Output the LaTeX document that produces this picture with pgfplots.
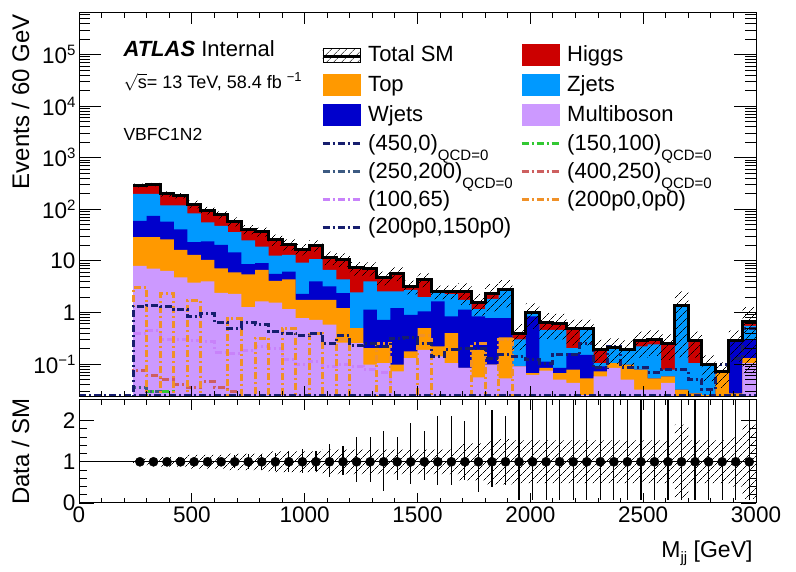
\documentclass[border=0pt]{standalone}
\usepackage{fontspec}
\setmainfont{Liberation Sans}
\usepackage{pgfplots}
\usepackage{pgfplotstable}
\pgfplotsset{compat=1.18}
\usetikzlibrary{patterns,patterns.meta}

\definecolor{cHiggs}{RGB}{204,0,0}
\definecolor{cTop}{RGB}{255,153,0}
\definecolor{cZ}{RGB}{0,153,255}
\definecolor{cW}{RGB}{0,0,204}
\definecolor{cVV}{RGB}{204,153,255}
\definecolor{sNavy}{RGB}{22,30,110}
\definecolor{sGreen}{RGB}{50,200,50}
\definecolor{sSteel}{RGB}{60,90,130}
\definecolor{sSalmon}{RGB}{205,95,95}
\definecolor{sViolet}{RGB}{200,130,250}
\definecolor{sOrange}{RGB}{240,145,40}

\newcommand{\sups}[1]{\raisebox{8bp}{\fontsize{15bp}{15bp}\selectfont #1}}
\newcommand{\qcd}{\smash{\raisebox{-10bp}{\fontsize{15bp}{15bp}\selectfont QCD=0}}}
\newcommand{\lstrut}{\rule[-3bp]{0pt}{19bp}}
\newcommand{\legL}[1]{\makebox[145bp][l]{\lstrut\smash{#1}}}
\newcommand{\legR}[1]{\lstrut\smash{#1}}
\newcommand{\boxleg}[1]{\addlegendimage{legend image code/.code={\fill[#1] (0bp,-10.5bp) rectangle (37bp,10.5bp);}}}
\newcommand{\lineleg}[1]{\addlegendimage{legend image code/.code={\draw[#1,line width=3bp,dash pattern=on 7bp off 3bp on 2bp off 3bp] (0bp,0bp) -- (37bp,0bp);}}}
\pgfplotsset{sig/.style={const plot, line width=3bp, dash pattern=on 7bp off 3bp on 2bp off 3bp, forget plot}}
\tikzset{hatch/.style={pattern={Lines[angle=45,distance=6bp,line width=0.6bp]}, pattern color=black}}

% bin left edge, cumulative tops: multiboson, +top, +wjets, +zjets, +higgs(total)
\pgfplotstableread{
x M Tp W Z T
240 8.0 29 60 200 290
300 7.1 29 75 200 303
360 6.4 26 58 119 200
420 4.8 16.4 41 119 183
480 3.8 13.1 23 83 126
540 4.0 10.5 24 56 95
600 2.4 7.2 20.5 48 78
660 2.3 6.0 14.6 36 58
720 1.27 5.5 8.7 25 41
780 1.64 6.7 9.1 19 37
840 1.56 4.1 5.6 12.6 26
900 1.16 4.4 6.2 13.1 21
960 0.78 1.76 2.3 9.3 17
1020 0.72 1.76 4.0 10.8 20
1080 0.58 1.76 3.2 6.7 11.8
1140 0.26 1.22 2.37 4.4 10.8
1200 0.255 0.5 0.5 2.44 7.3
1260 0.097 0.204 1.13 4.0 7.2
1320 0.104 0.204 0.72 2.56 4.8
1380 0.072 0.097 1.22 2.56 5.8
1440 0.13 0.176 0.9 2.75 3.2
1500 0.189 0.5 1.05 1.99 4.4
1560 0.141 0.22 1.64 2.44 2.56
1620 0.104 0.40 0.84 2.27 2.56
1680 0.084 0.084 1.13 1.76 2.56
1740 0.055 0.189 0.84 1.16 1.56
1800 0.097 0.097 0.78 1.84 2.3
1860 0.053 0.33 0.78 2.75 2.75
1920 0.09 0.09 0.09 0.30 0.39
1980 0.062 0.067 0.84 1.0 1.0
2040 0.075 0.084 0.112 0.46 0.64
2100 0.050 0.067 0.084 0.46 0.62
2160 0.043 0.078 0.163 0.204 0.48
2220 0.025 0.053 0.151 0.46 0.48
2280 0.058 0.072 0.090 0.104 0.195
2340 0.084 0.104 0.104 0.21 0.21
2400 0.050 0.097 0.097 0.189 0.189
2460 0.032 0.078 0.078 0.22 0.28
2520 0.032 0.053 0.053 0.24 0.30
2580 0.043 0.058 0.058 0.078 0.25
2640 0.020 0.032 0.032 1.35 1.35
2700 0.020 0.027 0.027 0.104 0.28
2760 0.020 0.025 0.025 0.097 0.097
2820 0.020 0.067 0.067 0.067 0.072
2880 0.020 0.027 0.27 0.27 0.28
2940 0.104 0.13 0.30 0.55 0.67
3000 0.104 0.13 0.30 0.55 0.67
}\maintab

% uncertainty band outline: upper edge forward, lower edge backward
\pgfplotstableread{
x y
240 313.2
300 327.2
360 224
420 205
480 147.4
540 111.2
600 91.3
660 69.6
720 49.2
780 44.4
840 32.5
900 26.25
960 21.25
1020 25
1080 15.34
1140 14.04
1200 9.49
1260 9.36
1320 6.24
1380 7.54
1440 4.16
1500 5.72
1560 3.33
1620 3.33
1680 3.71
1740 2.26
1800 3.565
1860 4.26
1920 0.593
1980 1.52
2040 0.973
2100 0.942
2160 0.730
2220 0.730
2280 0.296
2340 0.319
2400 0.287
2460 0.426
2520 0.456
2580 0.38
2640 2.565
2700 0.426
2760 0.147
2820 0.109
2880 0.448
2940 1.273
3000 1.273
3000 0.067
2940 0.112
2880 0.0346
2820 0.0466
2760 0.134
2700 0.135
2640 0.12
2580 0.144
2520 0.134
2460 0.0907
2400 0.101
2340 0.0936
2280 0.230
2220 0.230
2160 0.298
2100 0.307
2040 0.48
1980 0.187
1920 1.24
1860 1.035
1800 0.858
1740 1.41
1680 1.79
1620 1.79
1560 3.08
1500 2.24
1440 4.06
1380 3.36
1320 5.04
1260 5.11
1200 7.56
1140 8.26
1080 15
1020 12.75
960 15.75
900 19.5
840 29.6
780 32.8
720 46.4
660 64.7
600 78.9
540 104.6
480 161
420 176
360 278.8
300 266.8
240 266.8
}\bandtab

% signals: (200p0,150p0) (200p0,0p0) (100,65) (400,250) (150,100) (250,200)
\pgfplotstableread{
x sA sB sC sD sE sF
240 0.001 0.001 0.001 0.001 0.001 0.001
240 1.31 3.0 0.4 0.075 0.001 0.035
300 1.38 0.001 0.45 0.06 0.03 0.03
360 1.31 2.3 0.3 0.05 0.03 0.001
420 1.16 0.001 0.3 0.04 0.001 0.001
480 0.82 1.7 0.28 0.035 0.001 0.001
540 0.95 0.001 0.27 0.045 0.001 0.001
600 0.63 0.001 0.17 0.035 0.001 0.001
660 0.49 0.75 0.16 0.03 0.001 0.001
720 0.63 0.001 0.18 0.001 0.001 0.001
780 0.58 0.32 0.22 0.001 0.001 0.001
840 0.43 0.001 0.2 0.001 0.001 0.001
900 0.40 0.5 0.12 0.001 0.001 0.001
960 0.35 0.001 0.1 0.001 0.001 0.001
1020 0.40 0.4 0.11 0.001 0.001 0.001
1080 0.25 0.001 0.09 0.001 0.001 0.001
1140 0.35 0.3 0.1 0.001 0.001 0.001
1200 0.23 0.001 0.09 0.001 0.001 0.001
1260 0.255 0.001 0.08 0.001 0.001 0.001
1320 0.22 0.25 0.07 0.001 0.001 0.001
1380 0.32 0.001 0.001 0.001 0.001 0.001
1440 0.33 0.001 0.001 0.001 0.001 0.001
1500 0.255 0.35 0.001 0.001 0.001 0.001
1560 0.14 0.001 0.001 0.001 0.001 0.001
1620 0.19 0.001 0.001 0.001 0.001 0.001
1680 0.2 0.001 0.001 0.001 0.001 0.001
1740 0.2 0.25 0.001 0.001 0.001 0.001
1800 0.13 0.001 0.001 0.001 0.001 0.001
1860 0.15 0.3 0.001 0.001 0.001 0.001
1920 0.14 0.001 0.001 0.001 0.001 0.001
1980 0.12 0.001 0.001 0.001 0.001 0.001
2040 0.104 0.001 0.001 0.001 0.001 0.001
2100 0.15 0.001 0.001 0.001 0.001 0.001
2160 0.15 0.001 0.001 0.001 0.001 0.001
2220 0.25 0.001 0.001 0.001 0.001 0.001
2280 0.084 0.001 0.001 0.001 0.001 0.001
2340 0.22 0.001 0.001 0.001 0.001 0.001
2400 0.084 0.001 0.001 0.001 0.001 0.001
2460 0.084 0.001 0.001 0.001 0.001 0.001
2520 0.07 0.001 0.001 0.001 0.001 0.001
2580 0.078 0.001 0.001 0.001 0.001 0.001
2640 0.078 0.001 0.001 0.001 0.001 0.001
2700 0.05 0.001 0.001 0.001 0.001 0.001
2760 0.032 0.001 0.001 0.001 0.001 0.001
2820 0.1 0.001 0.001 0.001 0.001 0.001
2880 0.13 0.001 0.001 0.001 0.001 0.001
2940 0.5 0.001 0.001 0.001 0.001 0.001
3000 0.5 0.001 0.001 0.001 0.001 0.001
}\sigtab

% ratio band outline
\pgfplotstableread{
x y
240 1.08
300 1.08
360 1.12
420 1.12
480 1.17
540 1.17
600 1.17
660 1.2
720 1.2
780 1.2
840 1.25
900 1.25
960 1.25
1020 1.25
1080 1.3
1140 1.3
1200 1.3
1260 1.3
1320 1.3
1380 1.3
1440 1.3
1500 1.3
1560 1.3
1620 1.3
1680 1.45
1740 1.45
1800 1.55
1860 1.55
1920 1.52
1980 1.52
2040 1.52
2100 1.52
2160 1.52
2220 1.52
2280 1.52
2340 1.52
2400 1.52
2460 1.52
2520 1.52
2580 1.52
2640 1.9
2700 1.52
2760 1.52
2820 1.52
2880 1.6
2940 1.9
3000 1.9
3000 0.1
2940 0.4
2880 0.48
2820 0.48
2760 0.48
2700 0.1
2640 0.48
2580 0.48
2520 0.48
2460 0.48
2400 0.48
2340 0.48
2280 0.48
2220 0.48
2160 0.48
2100 0.48
2040 0.48
1980 0.48
1920 0.45
1860 0.45
1800 0.55
1740 0.55
1680 0.7
1620 0.7
1560 0.7
1500 0.7
1440 0.7
1380 0.7
1320 0.7
1260 0.7
1200 0.7
1140 0.7
1080 0.75
1020 0.75
960 0.75
900 0.75
840 0.8
780 0.8
720 0.8
660 0.83
600 0.83
540 0.83
480 0.88
420 0.88
360 0.92
300 0.92
240 0.92
}\rbandtab

% ratio points at bin centres
\pgfplotstableread{
x y ep em
270 1 0.05 0.05
330 1 0.05 0.05
390 1 0.06 0.06
450 1 0.06 0.06
510 1 0.08 0.08
570 1 0.09 0.09
630 1 0.1 0.1
690 1 0.16 0.16
750 1 0.18 0.18
810 1 0.2 0.2
870 1 0.22 0.22
930 1 0.25 0.24
990 1 0.3 0.28
1050 1 0.25 0.23
1110 1 0.42 0.38
1170 1 0.38 0.33
1230 1 0.6 0.5
1290 1 0.6 0.5
1350 1 0.75 0.7
1410 1 0.6 0.45
1470 1 0.95 0.55
1530 1 0.75 0.45
1590 1 1.1 0.56
1650 1 1.1 0.56
1710 1 1.0 0.45
1770 1 1.5 0.73
1830 1 1.25 0.6
1890 1 1.1 0.56
1950 1 1.6 0.93
2010 1 1.6 0.93
2070 1 1.6 0.93
2130 1 1.6 0.93
2190 1 1.6 0.93
2250 1 1.6 0.93
2310 1 1.6 0.93
2370 1 1.6 0.93
2430 1 1.6 0.93
2490 1 1.6 0.93
2550 1 1.6 0.93
2610 1 1.6 0.93
2670 1 1.6 0.93
2730 1 1.6 0.93
2790 1 1.6 0.93
2850 1 1.6 0.93
2910 1 1.6 0.93
2970 1 1.6 0.93
}\ratiotab

\pgfplotsset{
  atlasaxis/.style={
    scale only axis, width=677bp,
    xmin=0, xmax=3000,
    xtick={0,500,1000,1500,2000,2500,3000}, minor x tick num=4,
    axis on top,
    axis line style={line width=1bp},
    tick style={black, line width=0.9bp},
    tick label style={font=\fontsize{22.5bp}{26bp}\selectfont},
    clip=true,
  }
}

\begin{document}
\begin{tikzpicture}
\path[use as bounding box] (0,0) rectangle (796bp,572bp);

\begin{axis}[atlasaxis,
  height=383.5bp, at={(79bp,175.5bp)}, anchor=south west,
  ymode=log, ymin=0.0235, ymax=6.4e5, log origin y=infty,
  xticklabels={},
  ytick={0.1,1,10,100,1000,10000,100000},
  yticklabels={10\sups{−1},1,10,10\sups{2},10\sups{3},10\sups{4},10\sups{5}},
  minor ytick={0.03,0.04,0.05,0.06,0.07,0.08,0.09,0.2,0.3,0.4,0.5,0.6,0.7,0.8,0.9,2,3,4,5,6,7,8,9,20,30,40,50,60,70,80,90,200,300,400,500,600,700,800,900,2000,3000,4000,5000,6000,7000,8000,9000,20000,30000,40000,50000,60000,70000,80000,90000,200000,300000,400000,500000,600000},
  xtick style={/pgfplots/major tick length=11bp, /pgfplots/minor tick length=5.5bp},
  ytick style={/pgfplots/major tick length=22bp, /pgfplots/minor tick length=11bp},
  legend columns=2,
  legend cell align=left,
  legend style={at={(axis description cs:0.3575,0.920)}, anchor=north west,
    draw=none, fill=none, inner xsep=0pt, inner ysep=0pt,
    column sep=7bp, row sep=8.8bp,
    nodes={inner sep=0pt, text depth=, text height=},
    font=\fontsize{22bp}{26bp}\selectfont},
]
% stacked backgrounds (cumulative)
\addplot[const plot, fill=cHiggs, draw=none, forget plot] table[x=x,y=T] {\maintab} \closedcycle;
\addplot[const plot, fill=cZ, draw=none, forget plot] table[x=x,y=Z] {\maintab} \closedcycle;
\addplot[const plot, fill=cW, draw=none, forget plot] table[x=x,y=W] {\maintab} \closedcycle;
\addplot[const plot, fill=cTop, draw=none, forget plot] table[x=x,y=Tp] {\maintab} \closedcycle;
\addplot[const plot, fill=cVV, draw=none, forget plot] table[x=x,y=M] {\maintab} \closedcycle;
% signals
\addplot[sig, sViolet] table[x=x,y=sC] {\sigtab};
\addplot[sig, sSalmon] table[x=x,y=sD] {\sigtab};
\addplot[sig, sGreen] table[x=x,y=sE] {\sigtab};
\addplot[sig, sSteel] table[x=x,y=sF] {\sigtab};
\addplot[sig, sOrange] table[x=x,y=sB] {\sigtab};
\addplot[sig, sNavy] table[x=x,y=sA] {\sigtab};
\addplot[sig, sNavy] coordinates {(0,0.0245) (3000,0.0245)};
% uncertainty band and total
\addplot[const plot, hatch, draw=none, forget plot] table[x=x,y=y] {\bandtab};
\addplot[const plot, black, line width=3bp, forget plot] table[x=x,y=T] {\maintab};

% legend
\addlegendimage{legend image code/.code={\fill[pattern={Lines[angle=45,distance=6bp,line width=0.6bp]}, pattern color=black] (0bp,-8bp) rectangle (37bp,6bp); \draw[line width=3bp] (0bp,-2bp) -- (37bp,-2bp);}}
\addlegendentry{\legL{Total SM}}
\boxleg{cHiggs}\addlegendentry{\legR{Higgs}}
\boxleg{cTop}\addlegendentry{\legL{Top}}
\boxleg{cZ}\addlegendentry{\legR{Zjets}}
\boxleg{cW}\addlegendentry{\legL{Wjets}}
\boxleg{cVV}\addlegendentry{\legR{Multiboson}}
\lineleg{sNavy}\addlegendentry{\legL{(450,0)\qcd}}
\lineleg{sGreen}\addlegendentry{\legR{(150,100)\qcd}}
\lineleg{sSteel}\addlegendentry{\legL{(250,200)\qcd}}
\lineleg{sSalmon}\addlegendentry{\legR{(400,250)\qcd}}
\lineleg{sViolet}\addlegendentry{\legL{(100,65)}}
\lineleg{sOrange}\addlegendentry{\legR{(200p0,0p0)}}
\lineleg{sNavy}\addlegendentry{\legL{(200p0,150p0)}}

\node[anchor=base west, font=\fontsize{22bp}{26bp}\selectfont] at (axis description cs:0.0606,0.886) {\textbf{\textit{ATLAS}} Internal};
\node[anchor=base west, font=\fontsize{18bp}{20bp}\selectfont] at (axis description cs:0.0606,0.8044) {$\sqrt{\mbox{s}}$= 13 TeV, 58.4 fb \raisebox{7bp}{\fontsize{13bp}{13bp}\selectfont −1}};
\node[anchor=base west, font=\fontsize{17.5bp}{20bp}\selectfont] at (axis description cs:0.0606,0.6688) {VBFC1N2};
\end{axis}
\node[rotate=90, anchor=base east, font=\fontsize{24bp}{28bp}\selectfont] at (29bp,561bp) {Events / 60 GeV};

\begin{axis}[atlasaxis,
  height=103bp, at={(79bp,69bp)}, anchor=south west,
  ymin=0, ymax=2.5,
  ytick={0,1,2}, yticklabels={0,1,2}, minor y tick num=4,
  xticklabels={0,500,1000,1500,2000,2500,3000},
  xtick style={/pgfplots/major tick length=10bp, /pgfplots/minor tick length=5bp},
  ytick style={/pgfplots/major tick length=15bp, /pgfplots/minor tick length=7.5bp},
]
\addplot[const plot, hatch, draw=none] table[x=x,y=y] {\rbandtab};
\addplot[black, line width=1bp] coordinates {(0,1) (3000,1)};
\addplot[only marks, mark=*, mark size=4.6bp, black,
  error bars/.cd, y dir=both, y explicit, error mark=none,
  error bar style={line width=1.2bp, black}]
  table[x=x, y=y, y error plus=ep, y error minus=em] {\ratiotab};
\end{axis}
\node[rotate=90, anchor=base, font=\fontsize{24bp}{28bp}\selectfont] at (29bp,120.5bp) {Data / SM};
\node[anchor=base east, font=\fontsize{23bp}{26bp}\selectfont] at (756bp,15bp) {M\raisebox{-5bp}{\fontsize{15bp}{15bp}\selectfont jj} [GeV]};
\end{tikzpicture}
\end{document}
